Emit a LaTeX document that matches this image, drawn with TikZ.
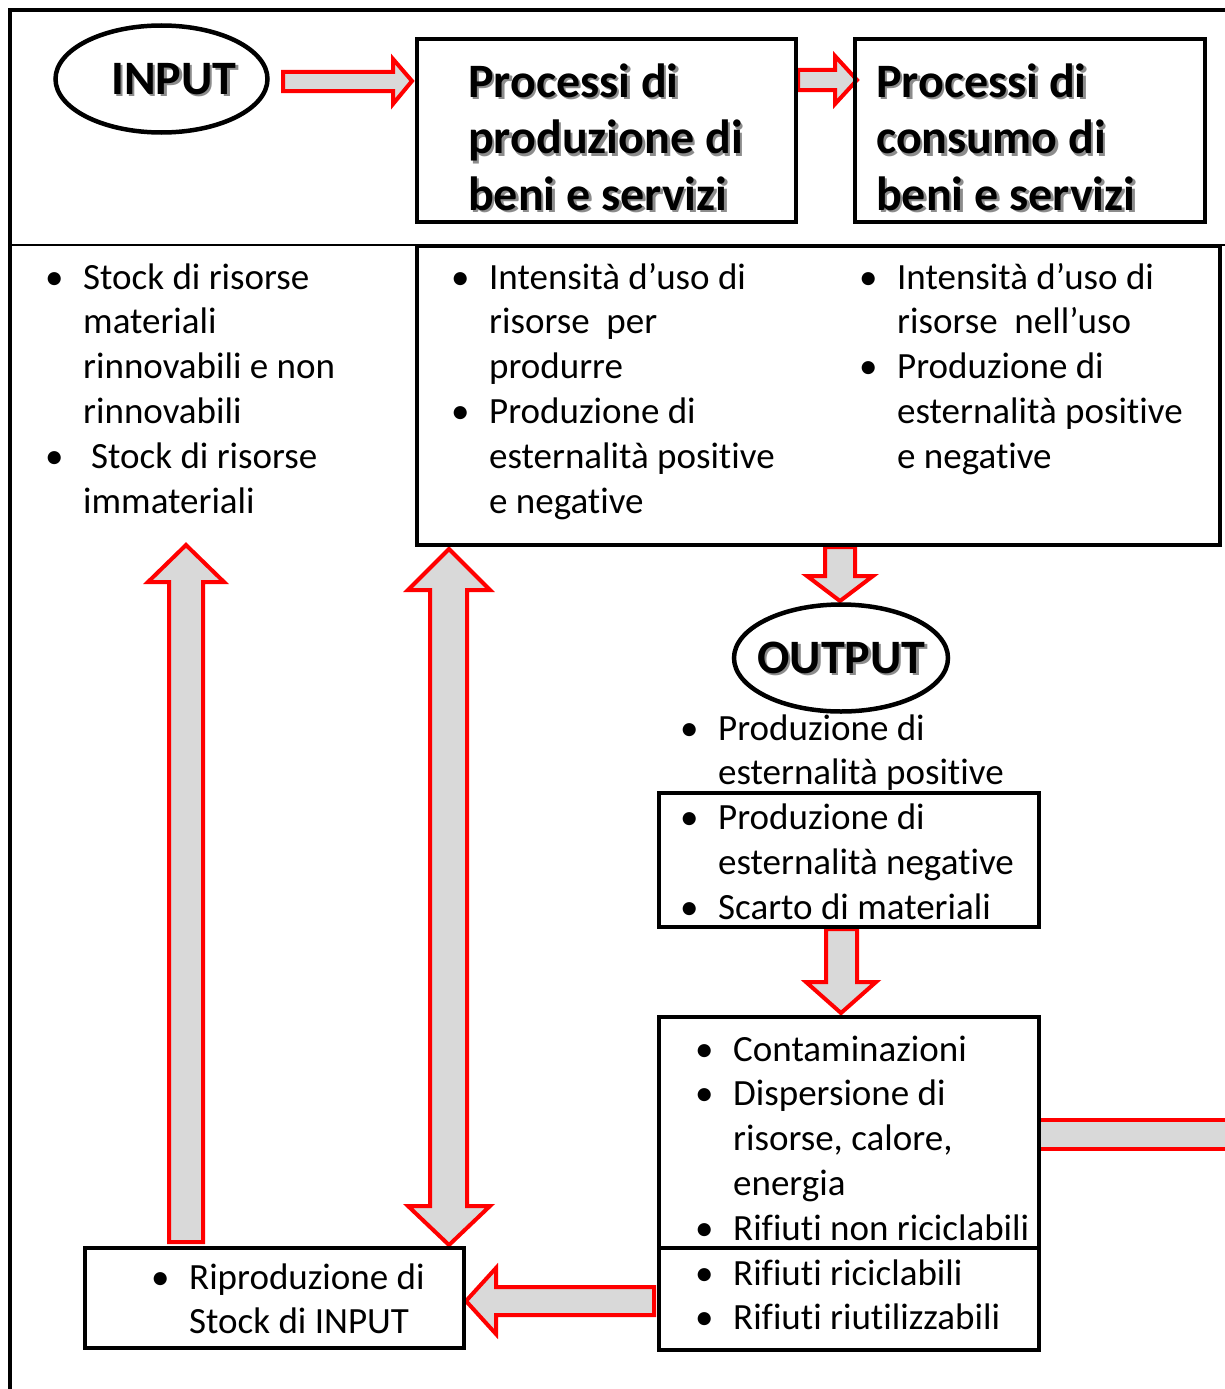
\documentclass[tikz,border=0pt]{standalone}
\usepackage{fontspec}
\usetikzlibrary{shapes.geometric}
\setmainfont{Carlito}[Ligatures=NoCommon]
\definecolor{agray}{HTML}{D9D9D9}
\definecolor{ared}{HTML}{FF0000}
\newcommand\bu{\makebox[41pt][l]{\hspace{3pt}•}}
\newcommand\ind{\hspace*{41pt}}
\begin{document}
\begin{tikzpicture}[x=1pt,y=-1pt,
  box/.style={draw=black, line width=4.5pt, inner sep=0pt, outer sep=0pt, anchor=north west},
  oval/.style={draw=black, line width=4.5pt, ellipse, inner sep=0pt, outer sep=0pt},
  barrow/.style={draw=ared, fill=agray, line width=4pt, line join=miter, miter limit=20},
  txt/.style={anchor=base west, inner sep=0pt, font=\fontsize{37}{44.8}\selectfont},
  head/.style={anchor=base west, inner sep=0pt, font=\bfseries\fontsize{48}{56.5}\selectfont},
  shad/.style={text=black!45},
]
\useasboundingbox (0,0) rectangle (1225,1389);
\begin{scope}
\clip (0,0) rectangle (1225,1389);
% outer frame
\draw[line width=4pt] (10,1400) -- (10,10) -- (1240,10);
\draw[line width=1.5pt] (10,245) -- (1240,245);

% block arrows
\draw[barrow] (283,72) -- (393,72) -- (393,59) -- (412,81) -- (393,104) -- (393,91) -- (283,91) -- cycle;
\draw[barrow] (798,70) -- (835,70) -- (835,56) -- (857,80) -- (835,104) -- (835,90) -- (798,90) -- cycle;
\draw[barrow] (825,547) -- (855,547) -- (855,576) -- (873,576) -- (840,601) -- (807,576) -- (825,576) -- cycle;
\draw[barrow] (826,929) -- (857,929) -- (857,982) -- (876,982) -- (841,1013) -- (806,982) -- (826,982) -- cycle;
\draw[barrow] (1039,1120) -- (1240,1120) -- (1240,1149) -- (1039,1149) -- cycle;
\draw[barrow] (654,1287) -- (496,1287) -- (496,1268) -- (466,1301) -- (496,1334) -- (496,1315) -- (654,1315) -- cycle;
\draw[barrow] (169,1242) -- (169,582) -- (148,582) -- (186,545) -- (224,582) -- (203,582) -- (203,1242) -- cycle;
\draw[barrow] (430,590) -- (408,590) -- (449,549) -- (490,590) -- (467,590) -- (467,1206) -- (490,1206) -- (449,1245) -- (408,1206) -- (430,1206) -- cycle;

% boxes
\node[box, minimum width=379pt, minimum height=183pt] (prod) at (417,39) {};
\node[box, minimum width=350pt, minimum height=183pt] (cons) at (855,39) {};
\node[box, minimum width=803pt, minimum height=299pt] (mid) at (417,246) {};
\node[box, minimum width=380pt, minimum height=134pt] (neg) at (659,793) {};
\node[box, minimum width=380pt, minimum height=231pt] (cont) at (659,1017) {};
\node[box, minimum width=380pt, minimum height=102pt] (rif) at (659,1248) {};
\node[box, minimum width=379pt, minimum height=100pt] (ripr) at (85,1248) {};

% ellipses
\node[oval, minimum width=212pt, minimum height=107pt, fill=white] (input) at (161.5,79) {};
\node[oval, minimum width=214pt, minimum height=107pt, fill=white] (output) at (841,658) {};

% headings with shadow
\node[head, shad] (inputs) at (113.5,96.5) {INPUT};
\node[head] (inputt) at (111,94) {INPUT};
\node[head, shad] (outputs) at (759.5,675.5) {OUTPUT};
\node[head] (outputt) at (757,673) {OUTPUT};
\node[head, shad] (prods) at (470.5,99.5) {\begin{tabular}[t]{@{}l@{}}Processi di\\produzione di\\beni e servizi\end{tabular}};
\node[head] (prodt) at (468,97) {\begin{tabular}[t]{@{}l@{}}Processi di\\produzione di\\beni e servizi\end{tabular}};
\node[head, shad] (conss) at (878.5,99.5) {\begin{tabular}[t]{@{}l@{}}Processi di\\consumo di\\beni e servizi\end{tabular}};
\node[head] (const) at (876,97) {\begin{tabular}[t]{@{}l@{}}Processi di\\consumo di\\beni e servizi\end{tabular}};

% text blocks
\node[txt] (stock) at (42,289) {\begin{tabular}[t]{@{}l@{}}\bu Stock di risorse\\\ind materiali\\\ind rinnovabili e non\\\ind rinnovabili\\\bu\hspace{8pt}Stock di risorse\\\ind immateriali\end{tabular}};
\node[txt] (intp) at (448,289) {\begin{tabular}[t]{@{}l@{}}\bu Intensità d’uso di\\\ind risorse\ \ per\\\ind produrre\\\bu Produzione di\\\ind esternalità positive\\\ind e negative\end{tabular}};
\node[txt] (intc) at (856,289) {\begin{tabular}[t]{@{}l@{}}\bu Intensità d’uso di\\\ind risorse\ \ nell’uso\\\bu Produzione di\\\ind esternalità positive\\\ind e negative\end{tabular}};
\node[txt] (pos) at (677,740) {\begin{tabular}[t]{@{}l@{}}\bu Produzione di\\\ind esternalità positive\end{tabular}};
\node[txt] (negt) at (677,829.5) {\begin{tabular}[t]{@{}l@{}}\bu Produzione di\\\ind esternalità negative\\\bu Scarto di materiali\end{tabular}};
\node[txt] (contt) at (692,1061) {\begin{tabular}[t]{@{}l@{}}\bu Contaminazioni\\\bu Dispersione di\\\ind risorse, calore,\\\ind energia\\\bu Rifiuti non riciclabili\end{tabular}};
\node[txt] (rift) at (692,1285) {\begin{tabular}[t]{@{}l@{}}\bu Rifiuti riciclabili\\\bu Rifiuti riutilizzabili\end{tabular}};
\node[txt] (riprt) at (148,1289) {\begin{tabular}[t]{@{}l@{}}\bu Riproduzione di\\\ind Stock di INPUT\end{tabular}};
\end{scope}
\end{tikzpicture}
\end{document}
